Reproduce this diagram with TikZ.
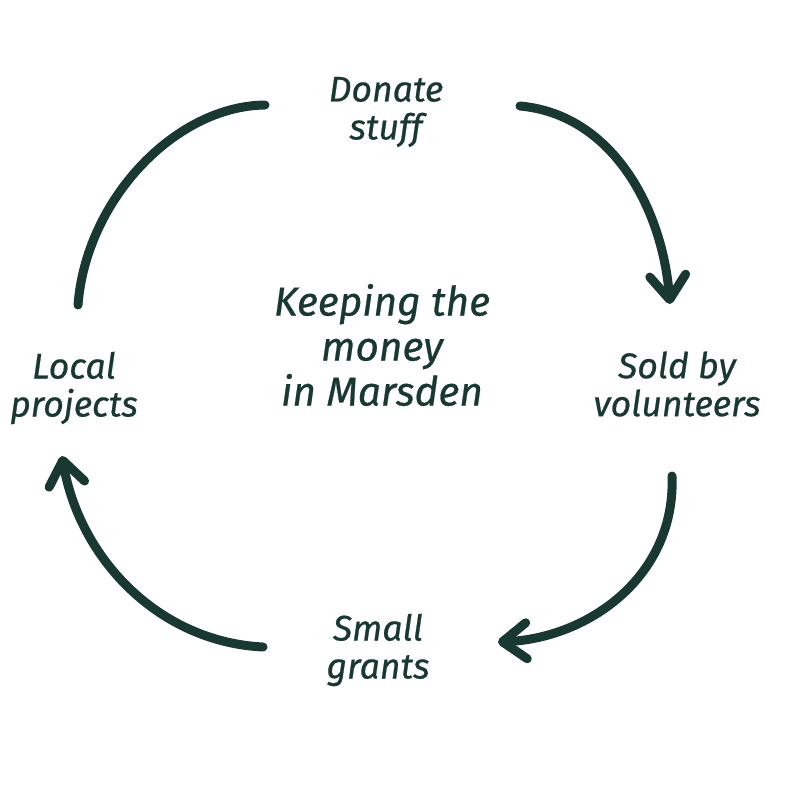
\documentclass[tikz,border=0pt]{standalone}
\usepackage{fontspec}
\setmainfont{Fira Sans}[ItalicFeatures={FakeBold=0.6}]
\usetikzlibrary{arrows.meta, positioning}
\definecolor{darkpine}{HTML}{1A3832}

\begin{document}
\begin{tikzpicture}[x=0.5pt, y=-0.5pt, thick,
    label/.style={text=darkpine, align=center, font=\itshape\fontsize{17.8}{19}\selectfont},
    centre/.style={text=darkpine, align=center, font=\itshape\fontsize{20.3}{22.5}\selectfont},
    cycle/.style={draw=darkpine, line width=4.5pt, line cap=round},
    tip/.style={-{Straight Barb[length=12pt, width=18pt, line cap=round, line join=round]}}]
      \useasboundingbox (0, 0) rectangle (800, 800);
      \node[label] (donate) at (386, 112) {Donate\\stuff};
      \node[label] (sold) at (677, 384) {Sold by\\volunteers};
      \node[label] (grants) at (378, 650) {Small\\grants};
      \node[label] (local) at (74, 388) {Local\\projects};
      \node[centre] (keep) at (382, 345) {Keeping the\\money\\in Marsden};
      \coordinate (a1) at (78, 305);
      \coordinate (a2) at (265, 105);
      \coordinate (b1) at (520, 106);
      \coordinate (b2) at (670, 304);
      \coordinate (c1) at (672, 476);
      \coordinate (c2) at (498, 642);
      \coordinate (d1) at (263, 647);
      \coordinate (d2) at (62, 456);
      \draw[cycle] (a1) .. controls (86, 200) and (175, 106) .. (a2);
      \draw[cycle, tip] (b1) .. controls (610, 114) and (662, 205) .. (b2);
      \draw[cycle, tip] (c1) .. controls (676, 575) and (590, 638) .. (c2);
      \draw[cycle, tip] (d1) .. controls (160, 642) and (80, 560) .. (d2);
    \end{tikzpicture}
\end{document}
